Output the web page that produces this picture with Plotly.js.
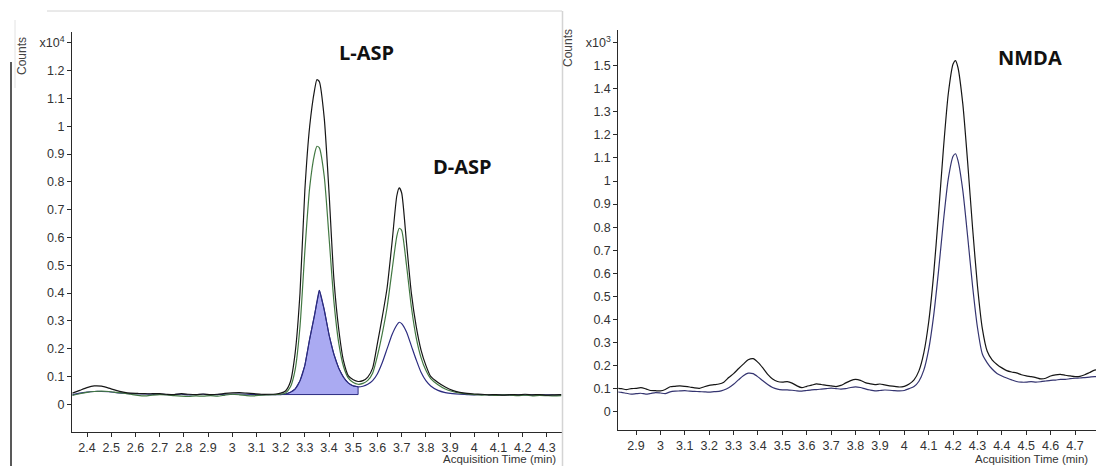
<!DOCTYPE html>
<html>
<head>
<meta charset="utf-8">
<script src="https://cdn.plot.ly/plotly-3.0.1.min.js"></script>
<style>
  html, body { margin: 0; padding: 0; background: #fff; overflow: hidden; }
  #chart { width: 1096px; height: 466px; }
</style>
</head>
<body>
<div id="chart"></div>
<script>
// ---- Aspartate enantiomers (left panel), counts in units of 10^4 ----
const leftTime = [2.34, 2.37, 2.40, 2.43, 2.46, 2.49, 2.52, 2.55, 2.58, 2.61, 2.64, 2.67, 2.70, 2.73, 2.76, 2.79, 2.82, 2.85, 2.88, 2.91, 2.94, 2.97, 3.00, 3.03, 3.06, 3.09, 3.12, 3.15, 3.18,
  3.20, 3.22, 3.24, 3.26, 3.28, 3.30, 3.32, 3.34, 3.35, 3.36, 3.38, 3.40, 3.42, 3.44, 3.46, 3.48, 3.50, 3.52, 3.54, 3.56, 3.58, 3.60, 3.62, 3.64, 3.66, 3.68, 3.69, 3.70, 3.72, 3.74, 3.76, 3.78, 3.80, 3.82,
  3.85, 3.88, 3.91, 3.94, 3.97, 4.00, 4.03, 4.06, 4.09, 4.12, 4.15, 4.18, 4.21, 4.24, 4.27, 4.30, 4.33, 4.36];

const aspHigh = [0.040, 0.050, 0.060, 0.066, 0.065, 0.058, 0.050, 0.044, 0.040, 0.039, 0.038, 0.038, 0.038, 0.036, 0.035, 0.038, 0.036, 0.035, 0.037, 0.035, 0.036, 0.039, 0.041, 0.042, 0.040, 0.038, 0.036, 0.036, 0.037,
  0.040, 0.048, 0.080, 0.185, 0.400, 0.770, 1.000, 1.130, 1.168, 1.160, 1.030, 0.760, 0.450, 0.270, 0.155, 0.102, 0.088, 0.082, 0.085, 0.098, 0.130, 0.220, 0.315, 0.420, 0.580, 0.750, 0.778, 0.760, 0.580, 0.400, 0.280, 0.195, 0.140, 0.100,
  0.078, 0.062, 0.050, 0.043, 0.039, 0.037, 0.036, 0.034, 0.035, 0.033, 0.035, 0.034, 0.036, 0.034, 0.035, 0.033, 0.034, 0.035];

const aspMid = [0.032, 0.038, 0.043, 0.046, 0.047, 0.046, 0.043, 0.040, 0.036, 0.032, 0.030, 0.033, 0.035, 0.034, 0.031, 0.029, 0.028, 0.030, 0.029, 0.031, 0.029, 0.033, 0.036, 0.034, 0.031, 0.030, 0.033, 0.034, 0.035,
  0.036, 0.041, 0.062, 0.125, 0.280, 0.550, 0.780, 0.900, 0.928, 0.922, 0.820, 0.600, 0.370, 0.220, 0.135, 0.094, 0.078, 0.072, 0.075, 0.086, 0.112, 0.175, 0.255, 0.350, 0.480, 0.605, 0.633, 0.625, 0.500, 0.350, 0.240, 0.168, 0.122, 0.092,
  0.070, 0.055, 0.046, 0.040, 0.037, 0.035, 0.033, 0.034, 0.032, 0.034, 0.033, 0.031, 0.033, 0.030, 0.032, 0.031, 0.030, 0.031];

const aspLow = [0.034, 0.040, 0.044, 0.046, 0.046, 0.045, 0.042, 0.040, 0.038, 0.037, 0.037, 0.036, 0.036, 0.035, 0.035, 0.036, 0.034, 0.035, 0.036, 0.034, 0.035, 0.036, 0.036, 0.037, 0.036, 0.035, 0.034, 0.035, 0.035,
  0.035, 0.037, 0.043, 0.055, 0.085, 0.140, 0.235, 0.320, 0.370, 0.410, 0.340, 0.250, 0.180, 0.130, 0.097, 0.076, 0.066, 0.063, 0.065, 0.072, 0.085, 0.110, 0.150, 0.200, 0.250, 0.285, 0.295, 0.290, 0.260, 0.210, 0.160, 0.115, 0.085, 0.066,
  0.050, 0.042, 0.038, 0.036, 0.035, 0.034, 0.035, 0.034, 0.033, 0.034, 0.033, 0.034, 0.033, 0.034, 0.033, 0.034, 0.033, 0.034];

// integration window and baseline for the shaded L-ASP peak
const lAspWindow = [3.20, 3.52];
const lAspBaseline = 0.035;

const leftYTicks = [0, 0.1, 0.2, 0.3, 0.4, 0.5, 0.6, 0.7, 0.8, 0.9, 1, 1.1, 1.2, 1.3];
const leftYLabels = ['0', '0.1', '0.2', '0.3', '0.4', '0.5', '0.6', '0.7', '0.8', '0.9', '1', '1.1', '1.2', 'x10<sup>4</sup>'];

// ---- NMDA (right panel), counts in units of 10^3 ----
const rightTime = [2.82, 2.84, 2.86, 2.88, 2.90, 2.92, 2.94, 2.96, 2.98, 3.00,
  3.02, 3.04, 3.06, 3.08, 3.10, 3.12, 3.14, 3.16, 3.18, 3.20,
  3.22, 3.24, 3.26, 3.28, 3.30, 3.32, 3.34, 3.36, 3.38, 3.40,
  3.42, 3.44, 3.46, 3.48, 3.50, 3.52, 3.54, 3.56, 3.58, 3.60,
  3.62, 3.64, 3.66, 3.68, 3.70, 3.72, 3.74, 3.76, 3.78, 3.80,
  3.82, 3.84, 3.86, 3.88, 3.90, 3.92, 3.94, 3.96, 3.98, 4.00,
  4.02, 4.04, 4.06, 4.08, 4.10, 4.12, 4.14, 4.16, 4.18, 4.20,
  4.21,
  4.22, 4.24, 4.26, 4.28, 4.30, 4.32, 4.34, 4.36, 4.38, 4.40,
  4.42, 4.44, 4.46, 4.48, 4.50, 4.52, 4.54, 4.56, 4.58, 4.60,
  4.62, 4.64, 4.66, 4.68, 4.70, 4.72, 4.74, 4.76, 4.78, 4.80];

const nmdaHigh = [0.102, 0.100, 0.096, 0.100, 0.101, 0.104, 0.099, 0.092, 0.091, 0.090,
  0.096, 0.108, 0.110, 0.112, 0.110, 0.107, 0.103, 0.101, 0.108, 0.114,
  0.117, 0.120, 0.128, 0.148, 0.165, 0.186, 0.206, 0.225, 0.230, 0.214,
  0.190, 0.162, 0.142, 0.131, 0.128, 0.130, 0.124, 0.112, 0.104, 0.110,
  0.115, 0.121, 0.118, 0.114, 0.112, 0.109, 0.114, 0.125, 0.135, 0.140,
  0.136, 0.126, 0.121, 0.117, 0.120, 0.116, 0.112, 0.110, 0.107, 0.110,
  0.120, 0.138, 0.177, 0.255, 0.389, 0.591, 0.852, 1.134, 1.375, 1.507,
  1.522,
  1.492, 1.333, 1.078, 0.796, 0.545, 0.360, 0.262, 0.225, 0.205, 0.190,
  0.178, 0.172, 0.168, 0.160, 0.155, 0.152, 0.148, 0.142, 0.145, 0.155,
  0.160, 0.162, 0.158, 0.155, 0.152, 0.153, 0.160, 0.170, 0.180, 0.182];

const nmdaLow = [0.086, 0.084, 0.080, 0.076, 0.078, 0.080, 0.076, 0.079, 0.083, 0.081,
  0.078, 0.086, 0.089, 0.090, 0.091, 0.089, 0.088, 0.087, 0.086, 0.085,
  0.087, 0.088, 0.094, 0.104, 0.119, 0.138, 0.156, 0.167, 0.165, 0.151,
  0.134, 0.118, 0.105, 0.098, 0.095, 0.095, 0.093, 0.090, 0.089, 0.092,
  0.095, 0.096, 0.098, 0.100, 0.102, 0.100, 0.098, 0.100, 0.105, 0.108,
  0.105, 0.099, 0.094, 0.090, 0.092, 0.094, 0.093, 0.091, 0.090, 0.092,
  0.100, 0.109, 0.132, 0.180, 0.270, 0.413, 0.606, 0.821, 1.007, 1.107,
  1.118,
  1.089, 0.958, 0.757, 0.544, 0.365, 0.250, 0.212, 0.185, 0.166, 0.155,
  0.146, 0.138, 0.131, 0.128, 0.128, 0.130, 0.128, 0.130, 0.133, 0.136,
  0.137, 0.140, 0.140, 0.143, 0.145, 0.146, 0.148, 0.150, 0.152, 0.152];

const rightYTicks = [0, 0.1, 0.2, 0.3, 0.4, 0.5, 0.6, 0.7, 0.8, 0.9, 1, 1.1, 1.2, 1.3, 1.4, 1.5, 1.6];
const rightYLabels = ['0', '0.1', '0.2', '0.3', '0.4', '0.5', '0.6', '0.7', '0.8', '0.9', '1', '1.1', '1.2', '1.3', '1.4', '1.5', 'x10<sup>3</sup>'];

// ---- page geometry (pixels) ----
const W = 1096, H = 466;
const px = v => v / W;
const py = v => (H - v) / H;

// shaded area under the low trace inside the integration window
const fillX = [], fillY = [];
leftTime.forEach((t, i) => {
  if (t >= lAspWindow[0] - 1e-9 && t <= lAspWindow[1] + 1e-9) { fillX.push(t); fillY.push(aspLow[i]); }
});
fillX.push(lAspWindow[1], lAspWindow[0]);
fillY.push(lAspBaseline, lAspBaseline);

const BLACK = '#161616';
const GREEN = 'rgb(66,120,66)';
const NAVY = 'rgb(44,44,128)';
const NAVY2 = 'rgb(52,52,112)';

const lineOf = (x, y, color, xa, ya) => ({
  type: 'scatter', mode: 'lines', x: x, y: y, xaxis: xa, yaxis: ya,
  line: { color: color, width: 1.2, shape: 'spline', smoothing: 0.6 },
  hoverinfo: 'skip', showlegend: false
});

const traces = [
  {
    type: 'scatter', mode: 'lines', x: fillX, y: fillY, xaxis: 'x', yaxis: 'y',
    fill: 'toself', fillcolor: 'rgb(170,170,242)',
    line: { color: NAVY, width: 1 }, hoverinfo: 'skip', showlegend: false
  },
  lineOf(leftTime, aspLow, NAVY, 'x', 'y'),
  lineOf(leftTime, aspMid, GREEN, 'x', 'y'),
  lineOf(leftTime, aspHigh, BLACK, 'x', 'y'),
  lineOf(rightTime, nmdaLow, NAVY2, 'x2', 'y2'),
  lineOf(rightTime, nmdaHigh, BLACK, 'x2', 'y2')
];

const tickFont = { family: 'Liberation Sans, Arial, sans-serif', size: 12.5, color: '#333' };
const axisCommon = {
  showgrid: false, zeroline: false, showline: true, linecolor: '#2a2a2a', linewidth: 1,
  ticks: 'outside', ticklen: 4, tickcolor: '#2a2a2a', tickwidth: 1,
  tickfont: tickFont, fixedrange: true
};

const layout = {
  width: W, height: H, autosize: false,
  margin: { l: 0, r: 0, t: 0, b: 0, pad: 0 },
  paper_bgcolor: '#fff', plot_bgcolor: 'rgba(0,0,0,0)',
  showlegend: false,
  xaxis: Object.assign({}, axisCommon, {
    domain: [px(72), px(561.5)], range: [2.338, 4.3603],
    tickmode: 'linear', tick0: 2.4, dtick: 0.1, anchor: 'y'
  }),
  yaxis: Object.assign({}, axisCommon, {
    domain: [py(431.7), py(31.7)], range: [-0.0986, 1.340],
    tickmode: 'array', tickvals: leftYTicks, ticktext: leftYLabels, anchor: 'x'
  }),
  xaxis2: Object.assign({}, axisCommon, {
    domain: [px(618.3), 1], range: [2.8274, 4.786],
    tickmode: 'linear', tick0: 2.9, dtick: 0.1, anchor: 'y2'
  }),
  yaxis2: Object.assign({}, axisCommon, {
    domain: [py(430), py(30)], range: [-0.0793, 1.6545],
    tickmode: 'array', tickvals: rightYTicks, ticktext: rightYLabels, anchor: 'x2'
  }),
  shapes: [
    // window frame of the left panel
    { type: 'line', xref: 'paper', yref: 'paper', x0: px(47), x1: px(562), y0: py(11), y1: py(11), line: { color: '#d4d4d4', width: 1 } },
    { type: 'line', xref: 'paper', yref: 'paper', x0: px(562.5), x1: px(562.5), y0: py(11), y1: 0, line: { color: '#d4d4d4', width: 1.5 } },
    { type: 'line', xref: 'paper', yref: 'paper', x0: px(11), x1: px(11), y0: py(62), y1: 0, line: { color: '#222', width: 1.5 } },
    { type: 'line', xref: 'paper', yref: 'paper', x0: px(15), x1: px(15), y0: py(20), y1: py(88), line: { color: '#e2e2e2', width: 1 } }
  ],
  annotations: [
    { text: '<b>L-ASP</b>', xref: 'paper', yref: 'paper', x: px(366), y: py(53), xanchor: 'center', yanchor: 'middle', showarrow: false,
      font: { family: 'Open Sans, sans-serif', size: 20, color: '#111' } },
    { text: '<b>D-ASP</b>', xref: 'paper', yref: 'paper', x: px(462), y: py(166), xanchor: 'center', yanchor: 'middle', showarrow: false,
      font: { family: 'Open Sans, sans-serif', size: 20, color: '#111' } },
    { text: '<b>NMDA</b>', xref: 'paper', yref: 'paper', x: px(1030), y: py(57), xanchor: 'center', yanchor: 'middle', showarrow: false,
      font: { family: 'Open Sans, sans-serif', size: 20, color: '#111' } },
    { text: 'Counts', xref: 'paper', yref: 'paper', x: px(22), y: py(56), textangle: -90, xanchor: 'center', yanchor: 'middle', showarrow: false,
      font: { family: 'Liberation Sans, Arial, sans-serif', size: 12, color: '#444' } },
    { text: 'Counts', xref: 'paper', yref: 'paper', x: px(568), y: py(48), textangle: -90, xanchor: 'center', yanchor: 'middle', showarrow: false,
      font: { family: 'Liberation Sans, Arial, sans-serif', size: 12, color: '#444' } },
    { text: 'Acquisition Time (min)', xref: 'paper', yref: 'paper', x: px(557), y: py(459), xanchor: 'right', yanchor: 'middle', showarrow: false,
      borderpad: 0, font: { family: 'Liberation Sans, Arial, sans-serif', size: 11.5, color: '#333' } },
    { text: 'Acquisition Time (min)', xref: 'paper', yref: 'paper', x: px(974), y: py(459), xanchor: 'left', yanchor: 'middle', showarrow: false,
      borderpad: 0, font: { family: 'Liberation Sans, Arial, sans-serif', size: 11.5, color: '#333' } }
  ]
};

Plotly.newPlot('chart', traces, layout, { staticPlot: true, displayModeBar: false });
</script>
</body>
</html>
